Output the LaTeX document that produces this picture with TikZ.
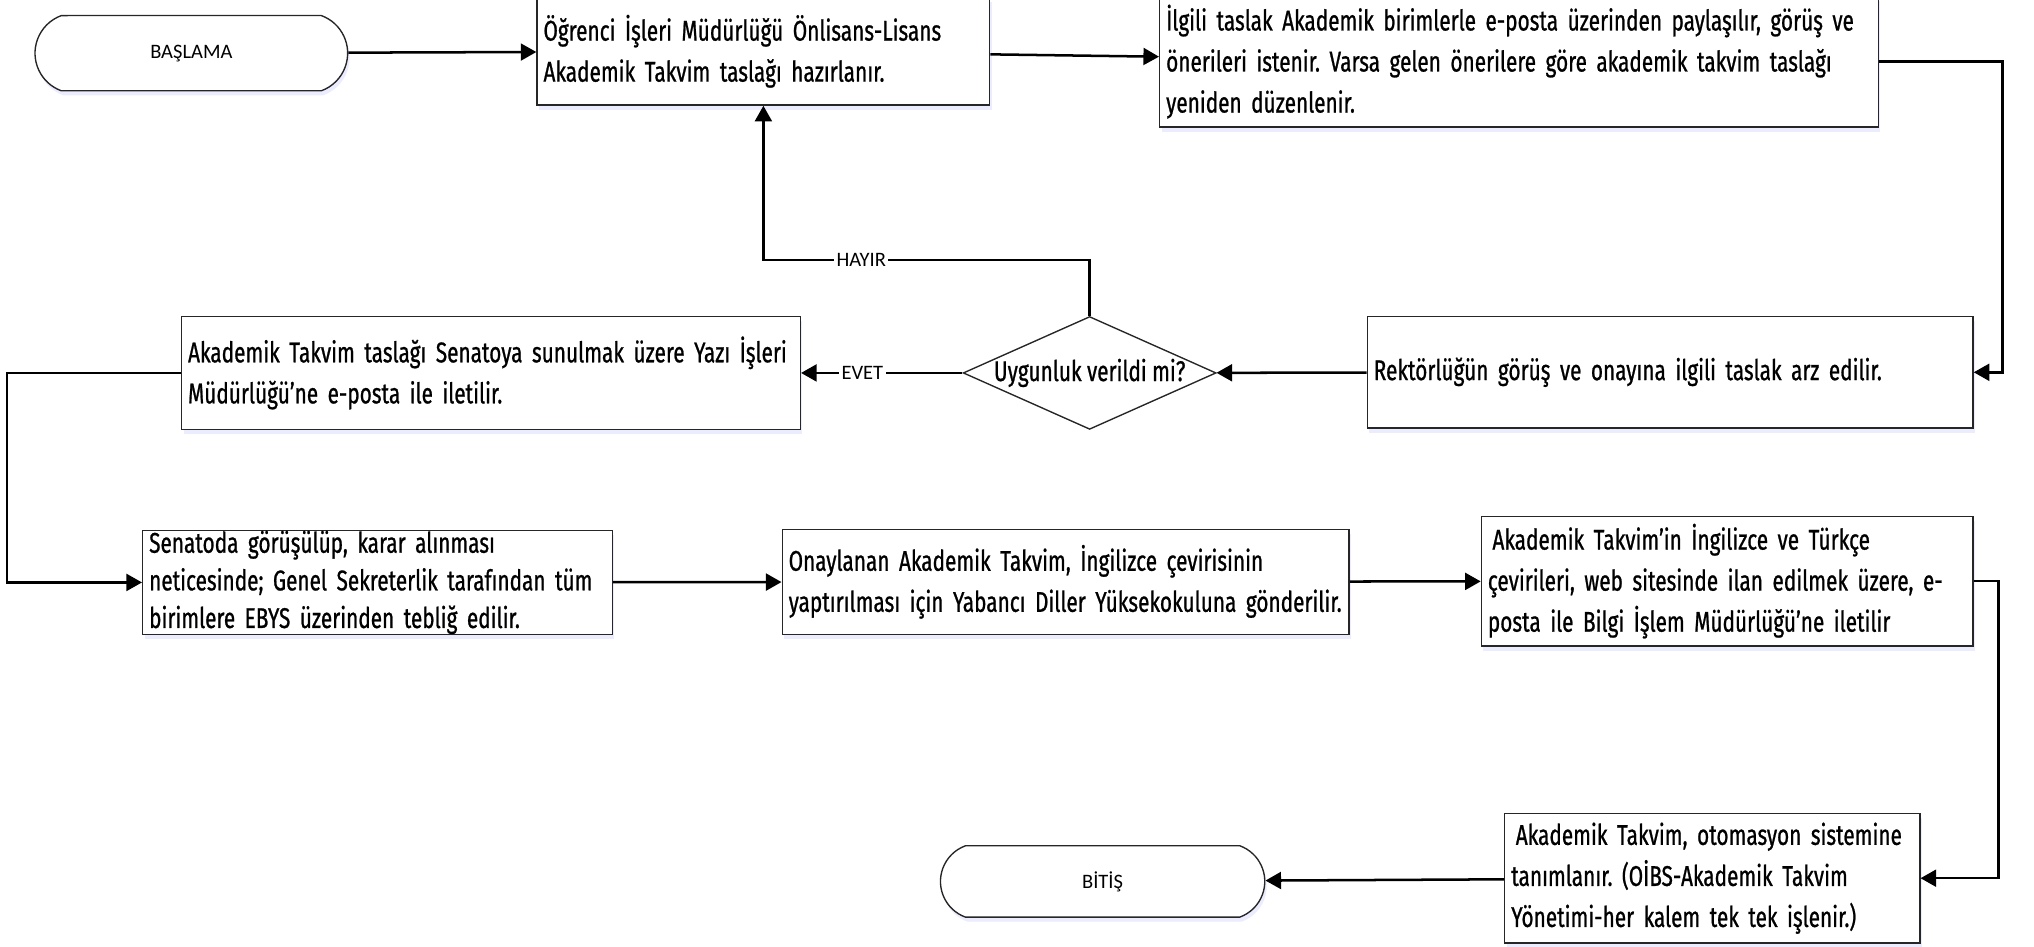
\documentclass[tikz,border=0pt]{standalone}
\usepackage{fontspec}
\setmainfont{Fira Sans}[FakeStretch=0.73, FakeBold=0.8]
\newfontfamily\labelfont{Carlito}
\usetikzlibrary{positioning, arrows.meta, shapes.geometric, shapes.misc, shadows}
\frenchspacing
\newcommand{\boxfont}[1][18]{\fontsize{12.5}{#1}\selectfont\spaceskip=0.19em plus 0.05em\relax}

\begin{document}
\begin{tikzpicture}[x=0.2mm, y=-0.2mm, >={Triangle[length=2.4mm, width=2.6mm]},
	every box/.style={draw=black!85, line width=0.6pt, fill=white, align=left, inner xsep=1mm, inner ysep=0pt,
		font=\boxfont,
		drop shadow={shadow xshift=0.3mm, shadow yshift=-0.7mm, fill=blue!30, opacity=0.25}},
	every terminal/.style={draw=black!85, line width=0.6pt, fill=white, rounded rectangle,
		rounded rectangle arc length=140, inner sep=0pt, font=\labelfont\fontsize{9}{11}\selectfont,
		drop shadow={shadow xshift=0.3mm, shadow yshift=-0.7mm, fill=blue!30, opacity=0.25}},
	every decision/.style={draw=black!85, line width=0.6pt, fill=white, diamond, inner sep=0pt,
		minimum width=39mm, minimum height=17.4mm, font=\boxfont},
	every flow/.style={line width=1.1pt},
	every tag/.style={fill=white, inner sep=1pt, font=\labelfont\fontsize{9}{11}\selectfont}]

	\useasboundingbox (0, 0) rectangle (1568, 730);

	\node [every terminal, minimum width=48.2mm, minimum height=11.6mm] (start) at (147.5, 41) {BAŞLAMA};
	\node [every box, text width=67.8mm, minimum height=16.6mm] (draft) at (588.5, 39.5)
		{Öğrenci İşleri Müdürlüğü Önlisans-Lisans\\Akademik Takvim taslağı hazırlanır.};
	\node [every box, text width=108.8mm, minimum height=20.2mm] (share) at (1171, 47.5)
		{İlgili taslak Akademik birimlerle e-posta üzerinden paylaşılır, görüş ve\\önerileri istenir. Varsa gelen önerilere göre akademik takvim taslağı\\yeniden düzenlenir.};

	\node [every box, text width=91.4mm, minimum height=17.2mm] (rector) at (1287.5, 287)
		{Rektörlüğün görüş ve onayına ilgili taslak arz edilir.};
	\node [every decision] (check) at (840, 287.5) {\makebox[0pt]{Uygunluk verildi mi?}};
	\node [every box, text width=93.4mm, minimum height=17.4mm] (senate) at (378.5, 287.5)
		{Akademik Takvim taslağı Senatoya sunulmak üzere Yazı İşleri\\Müdürlüğü’ne e-posta ile iletilir.};

	\node [every box, text width=70.4mm, minimum height=16mm, font={\boxfont[16.5]}] (council) at (291, 449)
		{Senatoda görüşülüp, karar alınması\\neticesinde; Genel Sekreterlik tarafından tüm\\birimlere EBYS üzerinden tebliğ edilir.};
	\node [every box, text width=85.4mm, minimum height=16.2mm] (translate) at (821.5, 448.5)
		{Onaylanan Akademik Takvim, İngilizce çevirisinin\\yaptırılması için Yabancı Diller Yüksekokuluna gönderilir.};
	\node [every box, text width=73.8mm, minimum height=20mm] (publish) at (1331.5, 448)
		{\hspace*{2pt}Akademik Takvim’in İngilizce ve Türkçe\\çevirileri, web sitesinde ilan edilmek üzere, e-\\posta ile Bilgi İşlem Müdürlüğü’ne iletilir};

	\node [every box, text width=62mm, minimum height=20mm] (system) at (1320, 677)
		{\hspace*{2pt}Akademik Takvim, otomasyon sistemine\\tanımlanır. (OİBS-Akademik Takvim\\Yönetimi-her kalem tek tek işlenir.)};
	\node [every terminal, minimum width=50mm, minimum height=11mm] (finish) at (850, 679.5) {BİTİŞ};

	\foreach \a/\b in {start/draft, draft/share, rector/check, council/translate, translate/publish, system/finish}
		\draw [every flow, ->] (\a) -- (\b);

	\draw [every flow, ->] (share.east) -- ++(95, 0) |- (rector.east);
	\draw [every flow, ->] (check.north) -- ++(0, -43) -| node [every tag, pos=0.35] (no-tag) {HAYIR} (draft.south);
	\draw [every flow, ->] (check.west) -- node [every tag, pos=0.62] (yes-tag) {EVET} (senate.east);
	\draw [every flow, ->] (senate.west) -- ++(-134, 0) |- (council.west);
	\draw [every flow, ->] (publish.east) -- ++(19, 0) |- (system.east);
\end{tikzpicture}
\end{document}
